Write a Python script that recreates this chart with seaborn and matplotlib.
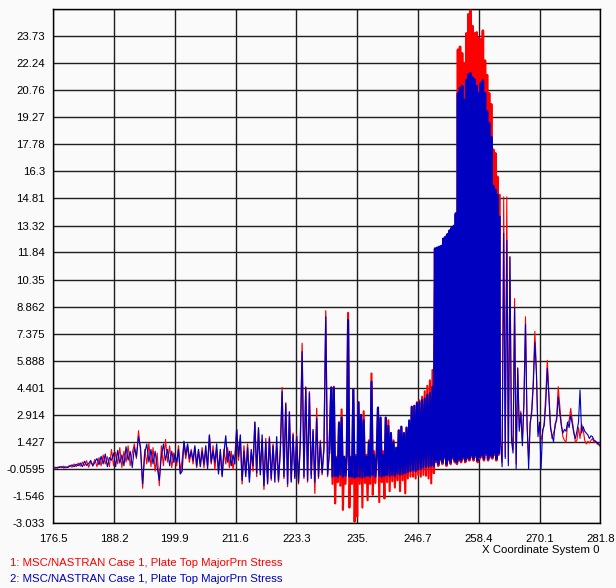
import numpy as np
import pandas as pd
import matplotlib
matplotlib.use("Agg")
import matplotlib.pyplot as plt
import seaborn as sns

sns.set_theme(style="white")
plt.rcParams['font.family'] = ['Liberation Sans', 'DejaVu Sans']

# ---- data ----
x_ticks = [176.5, 188.2, 199.9, 211.6, 223.3, 235.0, 246.7, 258.4, 270.1, 281.8]
x_tick_labels = ['176.5', '188.2', '199.9', '211.6', '223.3', '235.', '246.7', '258.4', '270.1', '281.8']
y_ticks = [-3.033, -1.546, -0.0595, 1.427, 2.914, 4.401, 5.888, 7.375, 8.862, 10.35,
           11.84, 13.32, 14.81, 16.3, 17.78, 19.27, 20.76, 22.24, 23.73]
y_tick_labels = ['-3.033', '-1.546', '-0.0595', '1.427', '2.914', '4.401', '5.888', '7.375', '8.862',
                 '10.35', '11.84', '13.32', '14.81', '16.3', '17.78', '19.27', '20.76', '22.24', '23.73']
y_top = 25.22

# segment ranges of x coordinate samples
seg_ranges = [(176.5, 199.7), (199.9, 229.65), (230.0, 249.75), (250.0, 262.4), (262.6, 281.8)]

red_s1 = [0.00,0.02,-0.05,0.06,0.00,0.08,-0.02,0.05,0.12,0.02,0.20,0.05,0.25,0.08,0.30,0.10,0.38,0.02,0.30,0.15,
          0.45,0.05,0.55,0.10,0.70,0.20,0.60,0.05,1.00,0.10,0.85,0.20,1.10,0.00,0.90,0.30,1.20,0.10,0.80,1.30,
          0.50,2.03,0.90,-1.14,1.00,0.20,1.35,0.05,1.10,-0.20,0.80,-1.00,1.20,0.10,1.55,0.30,1.20,0.00,0.80]
blue_s1 = [0.00,-0.03,0.02,0.01,0.05,-0.02,0.04,0.00,0.08,0.15,0.05,0.18,0.10,0.25,0.05,0.35,0.12,0.22,0.40,0.08,
           0.30,0.50,0.15,0.62,0.20,0.75,0.05,0.55,0.40,0.80,0.05,0.95,0.25,0.70,0.10,1.15,0.40,0.90,0.00,1.10,
           0.60,1.70,1.10,-0.90,0.80,1.30,0.30,1.00,0.20,0.90,0.00,-0.70,0.60,1.30,0.40,1.00,0.10,0.90,0.30]

red_s2 = [0.60,0.10,1.20,-0.30,0.40,1.35,0.50,1.20,0.30,1.00,0.20,1.10,0.00,0.90,0.20,1.10,0.00,0.90,0.10,1.75,
          0.20,1.20,-0.10,1.00,-0.20,0.80,-0.40,1.00,0.20,1.10,0.00,0.90,-0.10,0.60,2.10,0.40,1.60,-0.90,1.20,-0.30,
          1.30,-0.60,0.80,-0.20,2.50,-0.50,2.10,-0.20,1.50,-1.20,1.60,-0.80,1.70,-0.70,1.30,-0.30,1.10,-0.80,1.00,4.41,
          -0.60,3.57,-1.05,3.08,-0.70,1.90,-0.50,1.80,-0.90,1.50,6.84,-0.60,4.45,-0.80,4.18,-0.40,2.00,-1.42,3.26,-0.60,
          1.50,-0.40,1.20,8.63,-0.50,1.00]
blue_s2 = [0.70,0.30,1.00,-0.35,-0.20,1.45,0.70,1.30,0.50,0.90,0.40,1.20,0.10,1.00,0.05,0.90,0.20,1.20,-0.05,1.80,
           0.30,0.90,0.30,1.30,-0.35,1.00,-0.50,0.80,1.75,0.30,0.90,0.10,0.70,0.20,2.10,0.60,1.80,-0.70,0.90,-0.50,
           1.10,-0.80,1.00,0.10,2.50,-0.30,2.20,-0.40,1.80,-1.00,1.40,-0.90,1.60,-0.60,1.20,-0.80,1.70,-0.70,0.90,4.18,
           -0.50,3.50,-0.90,3.05,-0.80,1.80,-0.60,1.70,-0.80,1.30,6.38,-0.50,4.40,-0.70,4.10,-0.60,2.10,-0.80,2.71,-0.50,
           1.40,-0.30,1.00,8.30,-0.40,0.80]

red_s3 = [4.41,-0.90,4.45,-1.97,0.60,-0.80,2.50,-1.00,3.20,-2.33,0.50,-0.90,0.80,8.52,-2.20,0.60,-0.90,4.30,-2.98,0.70,
          -2.70,3.60,-0.90,2.90,-2.20,3.10,-0.85,0.70,-1.80,1.50,-0.90,5.18,-1.50,0.90,-0.85,0.80,3.30,-1.90,2.75,-0.80,
          0.90,-1.70,2.75,-0.80,2.60,-1.30,1.90,-0.75,1.50,-1.10,1.00,-0.70,2.05,-1.30,2.25,-0.70,1.90,-1.42,2.20,-0.60,
          2.40,-0.50,3.35,-0.50,3.40,-0.60,3.60,-0.40,3.70,-0.50,3.90,-0.40,4.20,-0.45,4.50,-0.60,4.80,-0.87,5.37,-0.30]
blue_s3 = [4.41,-0.50,4.40,-0.45,0.50,-0.50,2.45,-0.40,2.75,-0.50,0.60,-0.45,0.70,8.12,-0.50,0.55,-0.50,4.30,-0.55,0.60,
           -0.50,3.60,-0.50,2.90,-0.55,2.60,-0.50,0.60,-0.45,1.40,-0.50,4.73,-0.40,0.70,-0.50,0.60,3.30,-0.45,2.75,-0.50,
           0.70,-0.45,2.75,-0.40,2.30,-0.45,1.90,-0.40,1.40,-0.45,1.10,-0.35,2.05,-0.40,2.25,-0.35,1.90,-0.30,2.20,-0.25,
           2.60,-0.20,3.35,-0.15,3.40,-0.20,3.55,-0.10,3.60,-0.05,3.72,0.00,3.80,0.05,4.00,0.05,4.10,0.10,4.45,0.10]

red_s4 = [12.0,0.30,12.0,0.10,12.05,0.40,12.1,0.20,12.5,0.50,12.6,0.10,12.75,0.40,12.95,0.20,13.1,0.50,13.2,0.30,
          13.9,0.20,23.0,0.40,23.16,0.30,22.8,0.50,22.25,0.30,23.9,0.50,24.95,0.40,25.15,0.60,24.3,0.40,23.9,0.60,
          23.95,0.30,23.62,0.50,23.57,0.60,24.05,0.40,22.4,0.70,21.6,0.40,20.6,0.60,20.0,0.50,17.5,0.70,17.3,0.40,
          16.0,0.70,15.0]
blue_s4 = [12.06,0.40,12.10,0.20,12.15,0.50,12.20,0.30,12.60,0.60,12.70,0.20,12.85,0.50,13.05,0.30,13.20,0.60,13.30,0.40,
           13.99,0.30,20.6,0.50,20.9,0.40,21.0,0.60,20.23,0.40,21.33,0.60,21.65,0.50,21.7,0.70,21.47,0.50,21.35,0.70,
           21.0,0.40,20.6,0.60,21.15,0.70,21.3,0.50,20.6,0.80,19.6,0.50,18.94,0.70,18.2,0.60,15.5,0.80,15.28,0.50,
           15.0,0.80,13.8]

red_s5 = [1.5,0.3,14.9,0.6,14.9,0.3,11.6,1.8,1.0,9.3,0.2,5.5,2.2,3.1,1.5,3.7,8.3,2.3,0.5,2.5,
          3.2,4.8,7.5,5.4,2.0,2.2,1.5,1.9,2.5,4.0,5.9,4.1,2.4,1.6,1.9,2.2,2.8,4.45,3.4,2.4,
          1.7,1.5,1.4,2.4,2.6,3.26,2.6,2.0,1.4,1.5,2.2,1.6,2.4,2.1,1.5,1.3,1.45,1.35,1.5,1.6,
          1.4,1.45,1.3,1.25,1.15]
blue_s5 = [1.4,0.05,12.9,0.5,12.5,0.1,11.6,1.5,0.8,8.8,-0.06,5.46,2.0,3.0,1.2,3.5,7.9,2.5,-0.06,2.4,
           3.0,4.5,6.9,5.2,1.7,2.5,-0.06,2.07,2.3,3.5,5.46,3.9,2.2,1.8,1.42,2.4,2.6,3.9,3.0,2.3,
           1.9,2.1,2.0,2.5,2.2,2.9,2.4,1.9,1.6,2.0,2.5,4.27,1.9,2.25,2.0,1.9,1.8,1.6,1.75,1.7,
           1.5,1.45,1.35,1.3,1.2]

red_segments = [red_s1, red_s2, red_s3, red_s4, red_s5]
blue_segments = [blue_s1, blue_s2, blue_s3, blue_s4, blue_s5]

label_red = "1: MSC/NASTRAN Case 1, Plate Top MajorPrn Stress"
label_blue = "2: MSC/NASTRAN Case 1, Plate Top MajorPrn Stress"
x_title = "X Coordinate System 0"

RED = '#ff0000'
BLUE = '#0000c0'
# line width per segment (dense segments drawn thicker so the oscillation reads as a solid block)
seg_lw = [0.8, 0.9, 1.5, 1.8, 0.8]


def build(segments):
    frames = []
    prev = None
    for k, ((a, b), seg) in enumerate(zip(seg_ranges, segments)):
        d = pd.DataFrame({'x': np.linspace(a, b, len(seg)), 'y': np.asarray(seg, dtype=float)})
        d['seg'] = k
        if prev is not None:
            link = prev.iloc[[-1]].copy()
            link['seg'] = k
            d = pd.concat([link, d], ignore_index=True)
        frames.append(d)
        prev = d
    return frames


red_frames = build(red_segments)
blue_frames = build(blue_segments)

fig = plt.figure(figsize=(6.16, 5.88), dpi=100, facecolor='#fafafa')
ax = fig.add_axes([53.3 / 616, 1 - 522.7 / 588, (600.3 - 53.3) / 616, (522.7 - 9.3) / 588])
ax.set_facecolor('#fafafa')

for frames, col, z in ((red_frames, RED, 3), (blue_frames, BLUE, 4)):
    for d, lw in zip(frames, seg_lw):
        sns.lineplot(data=d, x='x', y='y', sort=False, estimator=None, color=col,
                     lw=lw, ax=ax, zorder=z)

ax.set_xlim(x_ticks[0], x_ticks[-1])
ax.set_ylim(y_ticks[0], y_top)
ax.set_xticks(x_ticks)
ax.set_xticklabels(x_tick_labels)
ax.set_yticks(y_ticks)
ax.set_yticklabels(y_tick_labels)
ax.set_xlabel('')
ax.set_ylabel('')
ax.grid(True, color='#1e1e1e', lw=1.0)
ax.axhline(y_top, color='#1e1e1e', lw=1.0, zorder=1)
ax.set_axisbelow(True)
for s in ax.spines.values():
    s.set_color('black')
    s.set_linewidth(1.0)
ax.tick_params(axis='both', direction='out', length=5, width=1, color='black',
               labelsize=8.2, labelcolor='black')
ax.tick_params(axis='y', pad=1)
ax.tick_params(axis='x', pad=3)

fig.text(600 / 616, 1 - 550 / 588, x_title, ha='right', va='center', fontsize=8.2, color='black')
fig.text(10 / 616, 1 - 563 / 588, label_red, ha='left', va='center', fontsize=8.2, color=RED)
fig.text(10 / 616, 1 - 579 / 588, label_blue, ha='left', va='center', fontsize=8.2, color=BLUE)

fig.savefig('out.png', dpi=100, facecolor=fig.get_facecolor())
